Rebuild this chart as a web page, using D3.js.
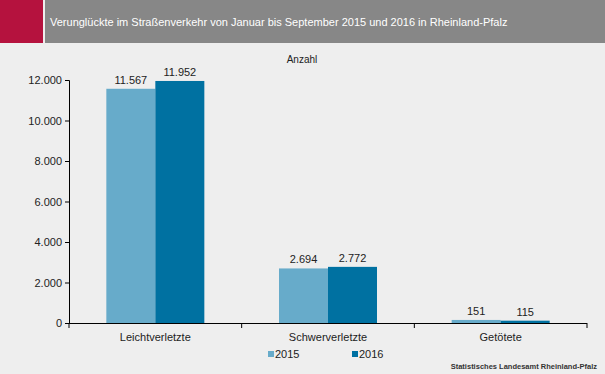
<!DOCTYPE html>
<html>
<head>
<meta charset="utf-8">
<script src="https://cdn.jsdelivr.net/npm/d3@7"></script>
<style>
  body { margin: 0; background: #eeeeee; }
  svg { display: block; font-family: "Liberation Sans", Arial, sans-serif; }
</style>
</head>
<body>
<div id="chart"></div>
<script>
var categories = ["Leichtverletzte", "Schwerverletzte", "Getötete"];
var years = ["2015", "2016"];
var values2015 = [11567, 2694, 151];
var values2016 = [11952, 2772, 115];
var yTicks = [0, 2000, 4000, 6000, 8000, 10000, 12000];

var width = 605, height = 374;
var colors = { "2015": "#67abca", "2016": "#0071a1" };
var fmt = function(v) { return d3.format(",")(v).replace(/,/g, "."); };

var svg = d3.select("#chart").append("svg")
    .attr("width", width)
    .attr("height", height);

svg.append("rect").attr("width", width).attr("height", height).attr("fill", "#eeeeee");

// header
svg.append("rect").attr("x", 0).attr("y", 0).attr("width", 43).attr("height", 43).attr("fill", "#b5123e");
svg.append("rect").attr("x", 45).attr("y", 0).attr("width", width - 45).attr("height", 43).attr("fill", "#878787");
svg.append("text")
    .attr("x", 50).attr("y", 26)
    .attr("fill", "#ffffff")
    .attr("font-size", "11px")
    .text("Verunglückte im Straßenverkehr von Januar bis  September 2015 und 2016 in Rheinland-Pfalz");

var x = d3.scaleBand().domain(categories).range([69, 587]);
// bar pair is ~98px wide, centred in each band
var xInner = d3.scaleBand().domain(years)
    .range([x.bandwidth() / 2 - 49, x.bandwidth() / 2 + 49]);
var y = d3.scaleLinear().domain([0, 12000]).range([323, 80]);

var rows = categories.map(function(c, i) {
    return { cat: c, vals: [{ year: "2015", v: values2015[i] }, { year: "2016", v: values2016[i] }] };
});

var g = svg.selectAll("g.cat").data(rows).enter().append("g")
    .attr("class", "cat")
    .attr("transform", function(d) { return "translate(" + x(d.cat) + ",0)"; });

g.selectAll("rect").data(function(d) { return d.vals; }).enter().append("rect")
    .attr("x", function(d) { return xInner(d.year); })
    .attr("y", function(d) { return y(d.v); })
    .attr("width", xInner.bandwidth())
    .attr("height", function(d) { return y(0) - y(d.v); })
    .attr("fill", function(d) { return colors[d.year]; });

g.selectAll("text.val").data(function(d) { return d.vals; }).enter().append("text")
    .attr("class", "val")
    .attr("x", function(d) { return xInner(d.year) + xInner.bandwidth() / 2; })
    .attr("y", function(d) { return y(d.v) - 5; })
    .attr("text-anchor", "middle")
    .attr("font-size", "11px")
    .attr("fill", "#222")
    .text(function(d) { return fmt(d.v); });

// y axis
var yAxis = svg.append("g")
    .attr("transform", "translate(69,0)")
    .call(d3.axisLeft(y).tickValues(yTicks).tickSize(4).tickFormat(fmt));
yAxis.select(".domain").attr("stroke", "#000");
yAxis.selectAll("text").attr("font-size", "11px").attr("fill", "#222").attr("font-family", "Liberation Sans, Arial, sans-serif");

// x axis
svg.append("line").attr("x1", 69).attr("x2", 587).attr("y1", 323.5).attr("y2", 323.5).attr("stroke", "#000");
svg.selectAll("line.xt").data(categories.concat(["end"])).enter().append("line")
    .attr("class", "xt")
    .attr("x1", function(d, i) { return 69 + i * x.bandwidth(); })
    .attr("x2", function(d, i) { return 69 + i * x.bandwidth(); })
    .attr("y1", 323).attr("y2", 328)
    .attr("stroke", "#000");
svg.selectAll("text.cat").data(categories).enter().append("text")
    .attr("class", "cat")
    .attr("x", function(d) { return x(d) + x.bandwidth() / 2; })
    .attr("y", 341)
    .attr("text-anchor", "middle")
    .attr("font-size", "11px")
    .attr("fill", "#222")
    .text(function(d) { return d; });

svg.append("text")
    .attr("x", 302).attr("y", 63)
    .attr("text-anchor", "middle")
    .attr("font-size", "10px")
    .attr("fill", "#222")
    .text("Anzahl");

// legend
var legX = [268, 352];
years.forEach(function(yr, i) {
    svg.append("rect").attr("x", legX[i]).attr("y", 351).attr("width", 6).attr("height", 6).attr("fill", colors[yr]);
    svg.append("text").attr("x", legX[i] + 7).attr("y", 358)
        .attr("font-size", "11px").attr("fill", "#222").text(yr);
});

svg.append("text")
    .attr("x", 597).attr("y", 369)
    .attr("text-anchor", "end")
    .attr("font-size", "7.5px")
    .attr("font-weight", "bold")
    .attr("fill", "#333")
    .text("Statistisches Landesamt Rheinland-Pfalz");
</script>
</body>
</html>
